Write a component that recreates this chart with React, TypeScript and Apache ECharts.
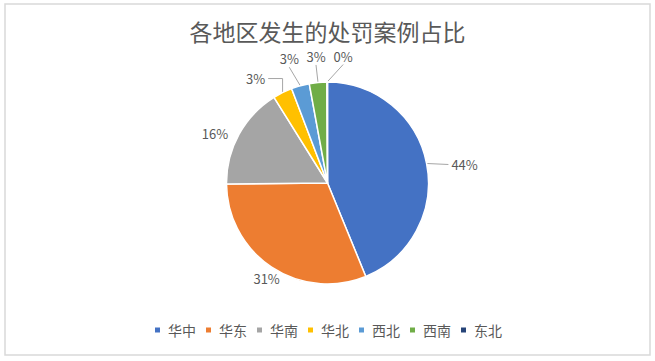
import React, { useEffect, useRef } from "react";
import * as echarts from "echarts";

const titleText = "各地区发生的处罚案例占比";
const regions = ["华中", "华东", "华南", "华北", "西北", "西南", "东北"];
const shares = [43.9, 31.1, 16.3, 3.1, 2.9, 2.8, 0.1];
const colors = ["#4472C4", "#ED7D31", "#A5A5A5", "#FFC000", "#5B9BD5", "#70AD47", "#264478"];

// label placement relative to the slice's outer edge at its mid-angle (Excel "best fit" look)
const labelOffsets: [number, number][] = [
  [38, 1],
  [-5, 11],
  [-24, -1],
  [-27, -14],
  [-11, -27],
  [-2, -26],
  [16, -26],
];
const lineKinds = ["horizontal", "none", "none", "elbow", "straight", "straight", "straight"];

const FONT = "'Noto Sans CJK SC', 'Noto Sans', sans-serif";
const CX = 327.5;
const CY = 183;
const R = 101;

export default function App() {
  const ref = useRef<HTMLDivElement>(null);
  useEffect(() => {
    if (!ref.current) return;
    const chart = echarts.init(ref.current, undefined, { renderer: "svg" });
    const total = shares.reduce((a, b) => a + b, 0);
    const mids: number[] = [];
    let acc = 0;
    shares.forEach((v) => {
      mids.push(((acc + v / 2) / total) * 2 * Math.PI);
      acc += v;
    });
    const edge = (i: number) => [CX + R * Math.sin(mids[i]), CY - R * Math.cos(mids[i])];

    chart.setOption({
      animation: false,
      backgroundColor: "#ffffff",
      color: colors,
      title: {
        text: titleText,
        left: "center",
        top: 14,
        textStyle: { fontFamily: FONT, fontSize: 23, fontWeight: "normal", color: "#595959" },
      },
      legend: {
        bottom: 19,
        left: "center",
        icon: "rect",
        itemWidth: 7,
        itemHeight: 7,
        itemGap: 8,
        textStyle: { fontFamily: FONT, fontSize: 14, color: "#595959", padding: [0, 0, 0, 2] },
        data: regions,
      },
      graphic: [
        {
          type: "rect",
          shape: { x: 5, y: 4, width: 645, height: 351 },
          style: { fill: "none", stroke: "#d9d9d9", lineWidth: 1.5 },
        },
      ],
      series: [
        {
          type: "pie",
          center: [CX, CY],
          radius: R,
          startAngle: 90,
          clockwise: true,
          avoidLabelOverlap: false,
          itemStyle: { borderColor: "#ffffff", borderWidth: 1.5 },
          label: {
            show: true,
            position: "outside",
            fontFamily: FONT,
            fontSize: 13,
            color: "#595959",
            formatter: (p: any) => Math.round((p.value / total) * 100) + "%",
          },
          labelLine: { show: true, length: 12, length2: 8, lineStyle: { color: "#a6a6a6", width: 1 } },
          labelLayout: (params: any) => {
            const i = params.dataIndex;
            const [ex, ey] = edge(i);
            const [dx, dy] = labelOffsets[i];
            const lx = ex + dx;
            const ly = ey + dy;
            const w = params.labelRect.width;
            const h = params.labelRect.height;
            let pts: number[][] = [
              [ex, ey],
              [ex, ey],
            ];
            const kind = lineKinds[i];
            if (kind === "horizontal") {
              pts = [
                [ex, ey],
                [lx - w / 2 - 3, ly],
              ];
            } else if (kind === "elbow") {
              pts = [
                [ex, ey],
                [ex, ly],
                [lx + w / 2 + 3, ly],
              ];
            } else if (kind === "straight") {
              pts = [
                [ex, ey],
                [lx, ly + h / 2 + 2],
              ];
            }
            return {
              x: lx,
              y: ly,
              align: "center",
              verticalAlign: "middle",
              labelLinePoints: pts,
            };
          },
          emphasis: { disabled: true },
          data: regions.map((name, i) => ({
            name,
            value: shares[i],
            labelLine: { show: lineKinds[i] !== "none" },
          })),
        },
      ],
    });
    return () => chart.dispose();
  }, []);
  return (
    <div
      ref={ref}
      style={{ position: "fixed", left: 0, top: 0, width: 655, height: 361, background: "#fff" }}
    />
  );
}
